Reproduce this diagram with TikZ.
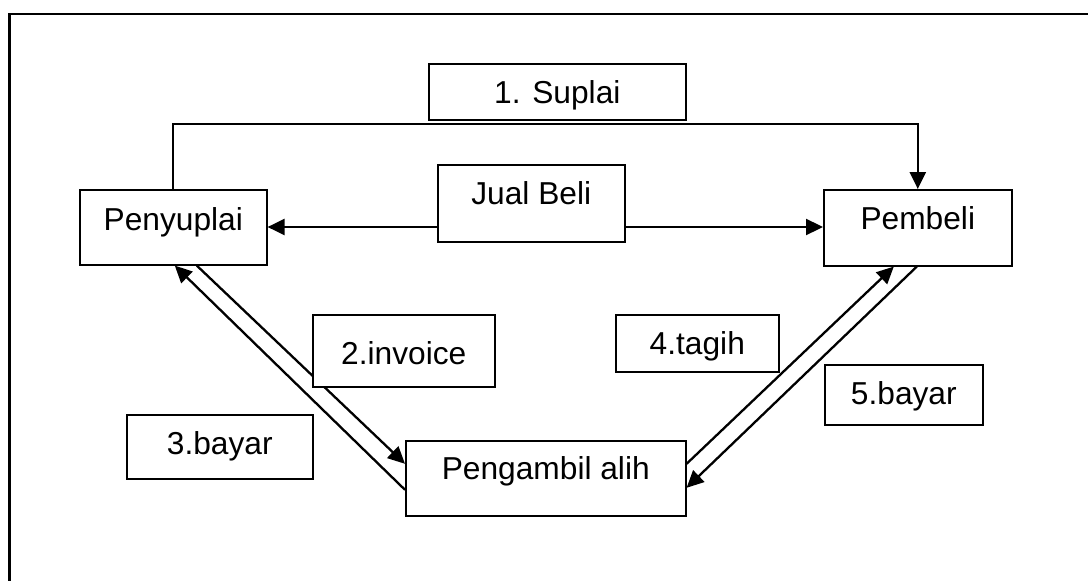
\documentclass[tikz,border=0pt]{standalone}
\usepackage{fontspec}
\setmainfont{Liberation Sans}
\usetikzlibrary{arrows.meta}
\tikzset{
  box/.style={draw=black, line width=1.6pt, fill=white, inner sep=0pt, anchor=north west,
    font=\fontsize{31.7pt}{38pt}\selectfont},
  conn/.style={line width=2.3pt, -{Triangle[length=17pt,width=16pt]}}
}
\begin{document}
\begin{tikzpicture}[x=1pt,y=-1pt]
\path[use as bounding box, fill=white] (0,0) rectangle (1088,581);
% outer frame
\draw[line width=2.3pt] (9.5,581) -- (9.5,14) -- (1088,14);
\coordinate (top) at (0,124);
\coordinate (mid) at (0,227);
% main nodes
\node[box, minimum width=187pt, text height=41pt, text depth=34pt] (peny) at (79,189) {Penyuplai};
\node[box, minimum width=188pt, text height=40pt, text depth=36pt] (pemb) at (823,189) {Pembeli};
\node[box, minimum width=280pt, text height=39pt, text depth=36pt] (peng) at (405,440) {Pengambil alih};
% label boxes
\node[box, minimum width=257pt, text height=40pt, text depth=16pt] (sup) at (428,63) {1. Suplai};
\node[box, minimum width=187pt, text height=40pt, text depth=37pt] (jual) at (437,164) {Jual Beli};
% connectors
\draw[conn] (peny.north) -- (peny.north |- top) -| (pemb.north);
\draw[conn] (jual.west |- mid) -- (peny.east |- mid);
\draw[conn] (jual.east |- mid) -- (pemb.west |- mid);
\draw[conn] ([xshift=23.5pt]peny.south) -- ([yshift=14.5pt]peng.west);
\draw[conn] ([yshift=-11.5pt]peng.west) -- ([xshift=1.5pt]peny.south);
\draw[conn] ([yshift=14.5pt]peng.east) -- ([xshift=-24pt]pemb.south);
\draw[conn] ([xshift=-1pt]pemb.south) -- ([yshift=-9.5pt]peng.east);
% label boxes on top of connectors
\node[box, minimum width=182pt, text height=50pt, text depth=22pt] (inv) at (312,314) {2.invoice};
\node[box, minimum width=186pt, text height=40pt, text depth=24pt] (bay3) at (126,414) {3.bayar};
\node[box, minimum width=163pt, text height=40pt, text depth=17pt] (tag) at (615,314) {4.tagih};
\node[box, minimum width=158pt, text height=40pt, text depth=20pt] (bay5) at (824,364) {5.bayar};
\end{tikzpicture}
\end{document}
